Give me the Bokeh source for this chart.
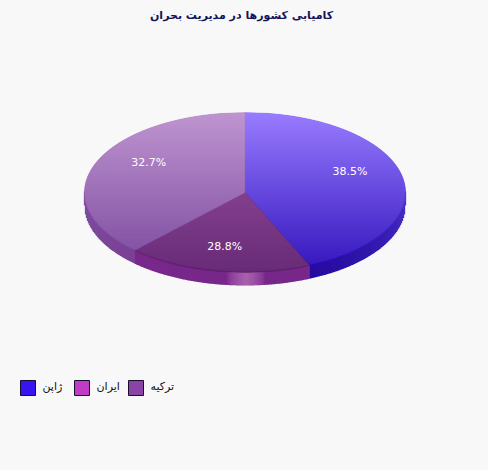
import numpy as np
from bokeh.plotting import figure
from bokeh.embed import file_html
from bokeh.resources import INLINE
from bokeh.core.properties import value

title = "کامیابی کشورها در مدیریت بحران"
categories = ["ژاپن", "ایران", "ترکیه"]
shares = [38.5, 28.8, 32.7]
legend_colors = ["#3a14f0", "#c03cc4", "#8a44a8"]

# styling (top / bottom of gradient)
TOP = ["#9274ff", "#9a4aa0", "#bb8ecd"]
BOT = ["#2606b8", "#5e1e6e", "#723e98"]
RIM_TOP = ["#4c32c8", "#7c2c8e", "#7d4f9f"]
RIM_BOT = ["#24089c", "#78288a", "#783c94"]
BG = "#f8f8f8"
W, H = 488, 470
CX, CY, RX, RY, D = 244.5, 192, 160.5, 80, 13


def rgb(h):
    return np.array([int(h[i:i + 2], 16) for i in (1, 3, 5)], float)


def mix(a, b, t):
    c = rgb(a) + (rgb(b) - rgb(a)) * min(max(t, 0), 1)
    return "#%02x%02x%02x" % tuple(int(round(v)) for v in c)


def pt(theta):
    s, c = np.sin(theta), np.cos(theta)
    r = 1 / np.sqrt((s / RX) ** 2 + (c / RY) ** 2)
    return CX + r * s, CY - r * c


p = figure(width=W, height=H, x_range=(0, W), y_range=(H, 0), toolbar_location=None,
           output_backend="svg", min_border=0, background_fill_color=BG,
           border_fill_color=BG, outline_line_color=None)
p.axis.visible = False
p.grid.visible = False

cum = np.cumsum([0] + shares) / sum(shares) * 2 * np.pi
y0, y1 = CY - RY, CY + RY

# rim: vertical columns along the front half of the ellipse
rx_, rtop, rbot, rcol = [], [], [], []
for x in np.arange(CX - RX, CX + RX + .01, 1.0):
    u = (x - CX) / RX
    yy = CY + RY * np.sqrt(max(1 - u * u, 0))
    a = np.arctan2(x - CX, -(yy - CY)) % (2 * np.pi)
    k = min(int(np.searchsorted(cum, a, side="right") - 1), 2)
    col = mix(RIM_TOP[k], RIM_BOT[k], (yy - CY) / RY)
    if k == 1:  # light band in the middle of the rim
        g = 1 - abs(x - (CX + 1)) / 19
        if g > 0:
            col = mix(col, "#a862ac", g ** .6)
    rx_.append(x); rtop.append(yy - 1); rbot.append(yy + D); rcol.append(col)
p.vbar(x=rx_, top=rtop, bottom=rbot, width=1.3, fill_color=rcol, line_color=None)

# top face: gradient bands
xs, ys, cols = [], [], []
for k in range(3):
    th = np.linspace(cum[k], cum[k + 1], 240)
    ex, ey = pt(th)
    px = np.r_[CX, ex]
    py = np.r_[CY, ey]

    def span(y):
        qx = np.r_[px, px[0]]
        qy = np.r_[py, py[0]]
        hit = []
        for i in range(len(px)):
            a, b = qy[i], qy[i + 1]
            if (a - y) * (b - y) <= 0 and a != b:
                hit.append(qx[i] + (y - a) / (b - a) * (qx[i + 1] - qx[i]))
        return (min(hit), max(hit)) if hit else None

    rows = np.arange(py.min(), py.max() + 1, 1.0)
    rows[-1] = py.max()
    for a, b in zip(rows[:-1], rows[1:]):
        sa, sb = span(a + 1e-6), span(b - 1e-6)
        if sa is None or sb is None:
            continue
        xs.append([sa[0], sa[1], sb[1], sb[0]])
        ys.append([a, a, b, b])
        cols.append(mix(TOP[k], BOT[k], ((a + b) / 2 - y0) / (y1 - y0)))
p.patches(xs, ys, fill_color=cols, line_color=cols, line_width=0.5)

# percent labels
mid = (cum[:-1] + cum[1:]) / 2
lx = CX + RX * .7 * np.sin(mid)
ly = CY - RY * .7 * np.cos(mid) - 1
p.text(lx, ly, text=["%.1f%%" % s for s in shares], text_color="#ffffff",
       text_font=value("DejaVu Sans"), text_font_size="11px",
       text_align="center", text_baseline="middle")

# title
p.text([W / 2 - 3], [15], text=[title], text_color="#14145a",
       text_font=value("DejaVu Sans"), text_font_size="11px", text_font_style="bold",
       text_align="center", text_baseline="middle")

# legend
sx = [20 + 54 * i for i in range(3)]
p.quad(left=sx, right=[v + 15 for v in sx], top=[380] * 3, bottom=[395] * 3,
       fill_color=legend_colors, line_color="#14102c", line_width=1)
p.text([v + 22 for v in sx], [386] * 3, text=categories, text_color="#111111",
       text_font=value("DejaVu Sans"), text_font_size="11px",
       text_align="left", text_baseline="middle")

html = file_html(p, INLINE)
html = html.replace("<head>", "<head><style>html,body{background:%s}</style>" % BG, 1)
open("out.html", "w").write(html)
